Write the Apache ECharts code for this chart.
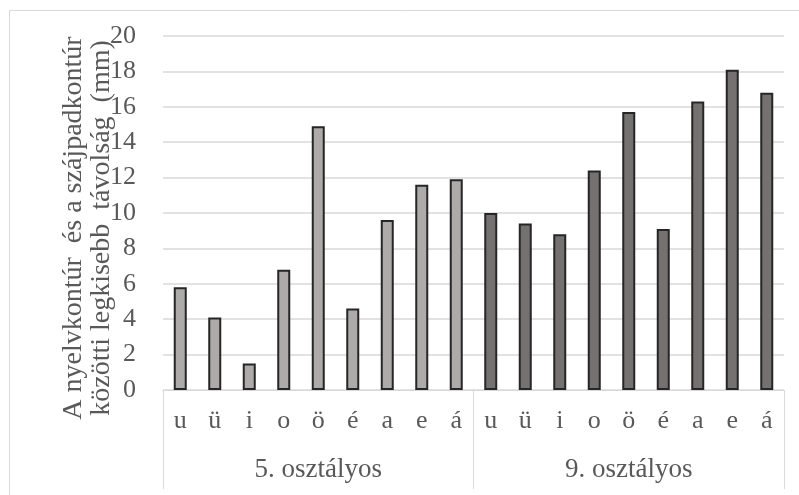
<!DOCTYPE html>
<html>
<head>
<meta charset="utf-8">
<script src="https://cdn.jsdelivr.net/npm/echarts@6/dist/echarts.min.js"></script>
<style>
  html, body { margin: 0; padding: 0; background: #ffffff; }
  #chart { width: 799px; height: 495px; }
</style>
</head>
<body>
<div id="chart"></div>
<script>
// Vowels measured in each grade
const vowels = ['u', 'ü', 'i', 'o', 'ö', 'é', 'a', 'e', 'á'];
const groups = ['5. osztályos', '9. osztályos'];

// Smallest tongue–palate contour distance (mm)
const grade5 = [5.8, 4.1, 1.5, 6.8, 14.9, 4.6, 9.6, 11.6, 11.9];
const grade9 = [10.0, 9.4, 8.8, 12.4, 15.7, 9.1, 16.3, 18.1, 16.8];

const yTicks = [0, 2, 4, 6, 8, 10, 12, 14, 16, 18, 20];

const categories = vowels.concat(vowels);
const blanks = vowels.map(() => null);
const serie5 = grade5.concat(blanks);
const serie9 = blanks.concat(grade9);

const FONT = "'Liberation Serif', 'Times New Roman', serif";
const TEXT = '#595959';
const LINE = '#d9d9d9';

const chart = echarts.init(document.getElementById('chart'), null, { renderer: 'canvas' });

chart.setOption({
  backgroundColor: '#ffffff',
  animation: false,
  textStyle: { fontFamily: FONT },
  graphic: [{
    type: 'rect',
    silent: true,
    shape: { x: 9.5, y: 10.5, width: 820, height: 520 },
    style: { fill: 'none', stroke: LINE, lineWidth: 1 }
  }],
  grid: { left: 163, right: 15, top: 36, bottom: 105, containLabel: false },
  xAxis: [
    {
      type: 'category',
      data: categories,
      position: 'bottom',
      axisLine: { show: true, lineStyle: { color: LINE, width: 1 } },
      axisTick: { show: false },
      axisLabel: {
        interval: 0,
        margin: 18,
        color: TEXT,
        fontFamily: FONT,
        fontSize: 26
      }
    },
    {
      type: 'category',
      data: groups,
      position: 'bottom',
      axisLine: { show: true, lineStyle: { color: LINE, width: 1 } },
      axisTick: { show: true, interval: 0, length: 99, lineStyle: { color: LINE, width: 1 } },
      axisLabel: {
        interval: 0,
        margin: 66,
        color: TEXT,
        fontFamily: FONT,
        fontSize: 27
      }
    }
  ],
  yAxis: {
    type: 'value',
    min: yTicks[0],
    max: yTicks[yTicks.length - 1],
    interval: 2,
    name: 'A nyelvkontúr  és a szájpadkontúr\nközötti legkisebb  távolság  (mm)',
    nameLocation: 'middle',
    nameRotate: 90,
    nameGap: 47,
    nameMoveOverlap: false,
    nameTextStyle: {
      color: TEXT,
      fontFamily: FONT,
      fontSize: 28,
      lineHeight: 28,
      padding: [0, 30, 0, 0]
    },
    axisLine: { show: false },
    axisTick: { show: false },
    splitLine: { show: true, lineStyle: { color: LINE, width: 1.5 } },
    axisLabel: {
      margin: 27,
      color: TEXT,
      fontFamily: FONT,
      fontSize: 26
    }
  },
  series: [
    {
      name: groups[0],
      type: 'bar',
      xAxisIndex: 0,
      data: serie5,
      barWidth: 13,
      barGap: '-100%',
      itemStyle: { color: '#AEAAAA', borderColor: '#262626', borderWidth: 2 }
    },
    {
      name: groups[1],
      type: 'bar',
      xAxisIndex: 0,
      data: serie9,
      barWidth: 13,
      barGap: '-100%',
      itemStyle: { color: '#767171', borderColor: '#262626', borderWidth: 2 }
    }
  ]
});
</script>
</body>
</html>
